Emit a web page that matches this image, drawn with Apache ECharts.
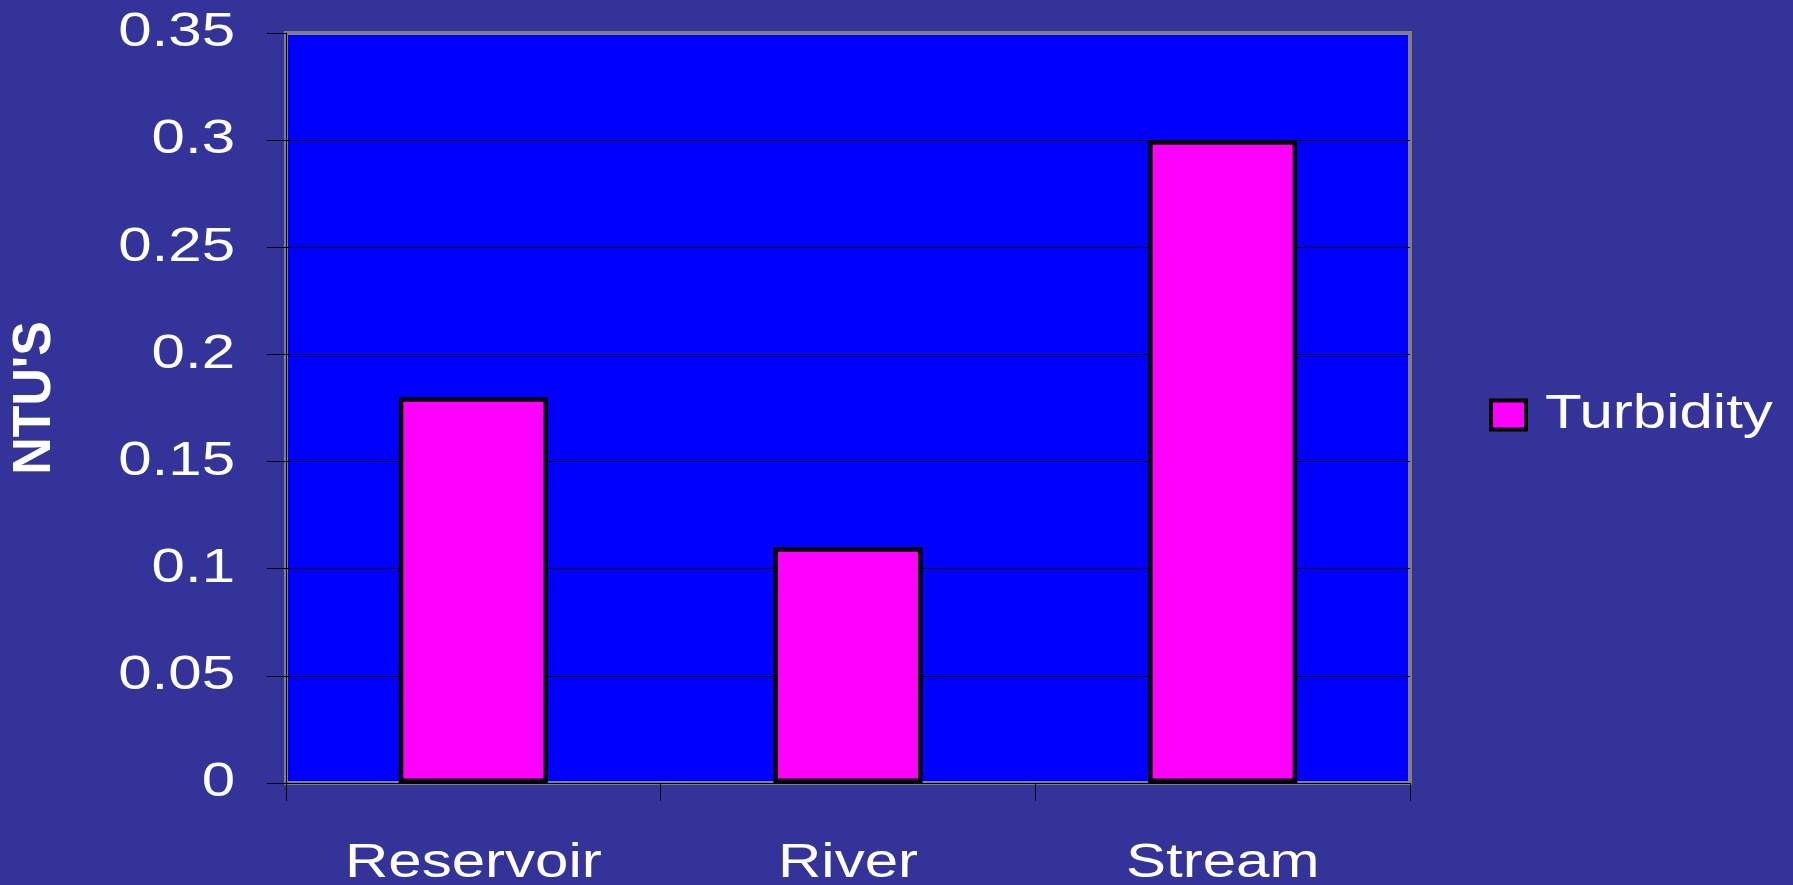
<!DOCTYPE html>
<html>
<head>
<meta charset="utf-8">
<script src="https://cdn.jsdelivr.net/npm/echarts@6/dist/echarts.min.js"></script>
<style>
  html, body { margin: 0; padding: 0; background: #333399; }
  #chart { width: 1793px; height: 885px; }
</style>
</head>
<body>
<div id="chart"></div>
<script>
const categories = ['Reservoir', 'River', 'Stream'];
const turbidity = [0.18, 0.11, 0.30];
const seriesName = 'Turbidity';
const yTickLabels = ['0', '0.05', '0.1', '0.15', '0.2', '0.25', '0.3', '0.35'];
const yAxisTitle = "NTU'S";

// The reference uses horizontally widened text; widen glyphs about their anchor.
(function () {
  const proto = CanvasRenderingContext2D.prototype;
  const orig = proto.fillText;
  proto.fillText = function (text, x, y, maxWidth) {
    const bold = /bold/.test(this.font);
    const s = bold ? 0.96 : 1.25;
    this.save();
    this.translate(x, y);
    this.scale(s, 1);
    if (maxWidth !== undefined) orig.call(this, text, 0, 0, maxWidth);
    else orig.call(this, text, 0, 0);
    this.restore();
  };
})();

const FONT = "'Liberation Sans', Arial, sans-serif";
const chart = echarts.init(document.getElementById('chart'), null, { renderer: 'canvas' });

chart.setOption({
  backgroundColor: '#333399',
  animation: false,
  grid: {
    left: 286, top: 33, right: 383, bottom: 102,
    containLabel: false,
    outerBoundsMode: 'none',
    show: true, backgroundColor: '#0000ff',
    borderColor: '#808080', borderWidth: 4
  },
  legend: {
    data: [seriesName],
    orient: 'vertical',
    left: 1489, top: 391,
    padding: 0,
    itemWidth: 35, itemHeight: 29,
    icon: 'rect',
    itemStyle: { color: '#ff00ff', borderColor: '#000000', borderWidth: 4 },
    textStyle: { color: '#ffffff', fontSize: 48, fontFamily: FONT, padding: [0, 0, 0, 14] }
  },
  xAxis: {
    type: 'category',
    data: categories,
    axisLine: { show: true, lineStyle: { color: '#000000', width: 1 } },
    axisTick: { show: true, alignWithLabel: false, length: 18, lineStyle: { color: '#000000', width: 1 } },
    axisLabel: { color: '#ffffff', fontSize: 48, fontFamily: FONT, margin: 57 },
    splitLine: { show: false }
  },
  yAxis: {
    type: 'value',
    min: 0, max: 0.35, interval: 0.05,
    axisLine: { show: true, lineStyle: { color: '#000000', width: 1 } },
    axisTick: { show: true, inside: false, length: 19, lineStyle: { color: '#000000', width: 1 } },
    axisLabel: {
      color: '#ffffff', fontSize: 48, fontFamily: FONT, margin: 51,
      formatter: v => yTickLabels[Math.round(v / 0.05)]
    },
    splitLine: { show: true, showMinLine: false, showMaxLine: false, lineStyle: { color: '#000000', width: 1 } }
  },
  graphic: [{
    type: 'text',
    x: 35, y: 398,
    rotation: Math.PI / 2,
    silent: true,
    style: {
      text: yAxisTitle,
      fill: '#ffffff',
      font: "bold 54px " + FONT,
      textAlign: 'center',
      textVerticalAlign: 'middle'
    }
  }],
  series: [{
    name: seriesName,
    type: 'bar',
    data: turbidity,
    barWidth: 149,
    itemStyle: { color: '#ff00ff', borderColor: '#000000', borderWidth: 4.5 }
  }]
});
</script>
</body>
</html>
